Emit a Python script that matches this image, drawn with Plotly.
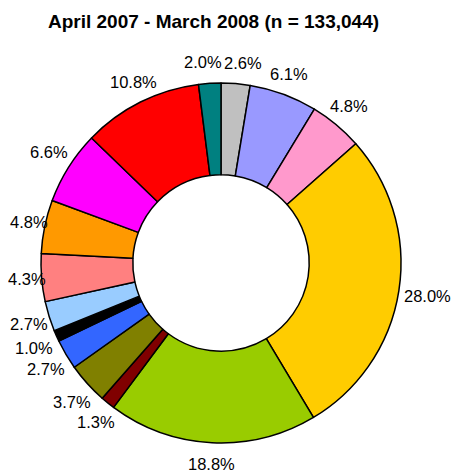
import math
import plotly.graph_objects as go

categories = ["Gray", "Lavender", "Pink", "Gold", "Yellow-green", "Dark red", "Olive",
              "Blue", "Black", "Light blue", "Salmon", "Orange", "Magenta", "Red", "Teal"]
values = [2.6, 6.1, 4.8, 28.0, 18.8, 1.3, 3.7, 2.7, 1.0, 2.7, 4.3, 4.8, 6.6, 10.8, 2.0]
value_labels = ["2.6%", "6.1%", "4.8%", "28.0%", "18.8%", "1.3%", "3.7%", "2.7%", "1.0%",
                "2.7%", "4.3%", "4.8%", "6.6%", "10.8%", "2.0%"]
colors = ["#C0C0C0", "#9999FF", "#FF99CC", "#FFCC00", "#99CC00", "#800000", "#808000",
          "#3366FF", "#000000", "#99CCFF", "#FF8080", "#FF9900", "#FF00FF", "#FF0000", "#008080"]

# figure geometry (page has an 8px body margin)
W, H = 459, 468
CX, CY, R = 213, 255, 180          # pie centre / radius in figure pixels
LRX, LRY = 195, 201                # radius at which label centres sit
FS = 16.5                          # label font size
LH = FS * 1.1                      # label line height
GH = FS * 0.8                      # visible glyph height
GAP = 5                            # clearance from the ring when room allows

dom_x = [(CX - R) / W, (CX + R) / W]
dom_y = [(H - CY - R) / H, (H - CY + R) / H]

fig = go.Figure(go.Pie(
    labels=categories,
    values=values,
    textinfo="none",
    marker=dict(colors=colors, line=dict(color="#000000", width=1.5)),
    hole=0.49,
    sort=False,
    direction="clockwise",
    rotation=0,
    domain=dict(x=dom_x, y=dom_y),
    showlegend=False,
    hoverinfo="label+text",
    text=value_labels,
))

# approximate Arial advance widths (em) to estimate label extents
ADV = {".": 0.278, "%": 0.889}
def text_w(s):
    return FS * sum(ADV.get(c, 0.556) for c in s)

def ring_clear(x, y, w):
    dx = max(abs(x - CX) - w / 2, 0)
    dy = max(abs(y - CY) - GH / 2, 0)
    return math.hypot(dx, dy) >= R + GAP

def in_canvas(x, y, w):
    return x - w / 2 >= 2 and x + w / 2 <= W - 2 and y - LH / 2 >= 0 and y + LH / 2 <= H

# labels at each slice's mid-angle, derived from the values
total = sum(values)
cum = 0.0
pos = []
for v, lab in zip(values, value_labels):
    mid = (cum + v / 2) / total * 2 * math.pi
    cum += v
    w = text_w(lab)
    ux, uy = math.sin(mid), -math.cos(mid)
    x, y = CX + LRX * ux, CY + LRY * uy
    # step outward until clear of the ring, without leaving the canvas
    while not ring_clear(x, y, w) and in_canvas(x + ux, y + uy, w):
        x += ux; y += uy
    pos.append([x, y, w])

# push neighbouring labels apart horizontally when their boxes collide
n = len(pos)
for _ in range(5):
    for i in range(n):
        a, b = pos[i], pos[(i + 1) % n]
        ox = (a[2] + b[2]) / 2 - abs(a[0] - b[0])
        oy = LH - abs(a[1] - b[1])
        if ox > 0 and oy > 0:
            shift = ox / 2 + 1
            if a[0] <= b[0]:
                a[0] -= shift; b[0] += shift
            else:
                a[0] += shift; b[0] -= shift

for (px, py, _), lab in zip(pos, value_labels):
    fig.add_annotation(
        x=px / W, y=1 - py / H, xref="paper", yref="paper",
        text=lab, showarrow=False, xanchor="center", yanchor="middle",
        font=dict(family="Liberation Sans, Arial", size=FS, color="#000000"),
    )

fig.update_layout(
    width=W, height=H,
    margin=dict(l=0, r=0, t=0, b=0),
    paper_bgcolor="white", plot_bgcolor="white",
    title=dict(text="<b>April 2007 - March 2008 (n = 133,044)</b>",
               font=dict(family="Liberation Sans, Arial", size=19, color="#000000"),
               x=205.5 / W, xanchor="center", y=1 - 13 / H, yanchor="middle"),
)

fig.write_html("out.html")
